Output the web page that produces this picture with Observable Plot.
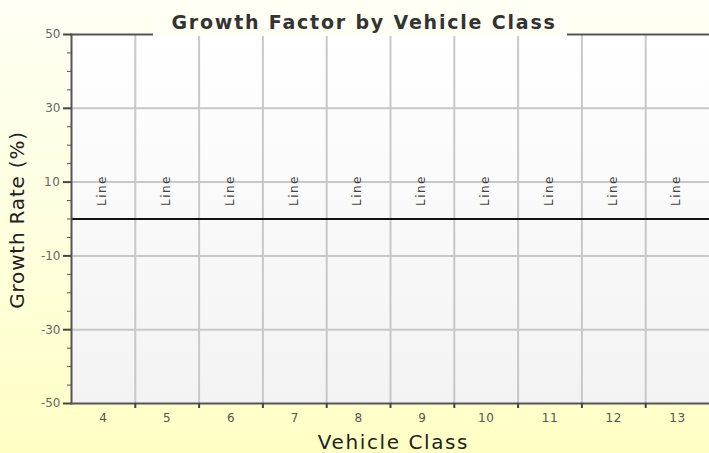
<!DOCTYPE html>
<html>
<head>
<meta charset="utf-8">
<script src="https://cdn.jsdelivr.net/npm/d3@7"></script>
<script src="https://cdn.jsdelivr.net/npm/@observablehq/plot@0.6"></script>
<style>
  html, body { margin: 0; padding: 0; }
  body { width: 709px; height: 453px; overflow: hidden; }
  #wrap {
    position: relative; width: 709px; height: 453px;
    background: linear-gradient(to bottom, #fffff4 0%, #ffffe2 45%, #ffffc4 100%);
  }
  #title {
    position: absolute; left: 153px; top: 8px; width: 414px; height: 28px;
    background: #fffff3; text-align: center; padding-left: 8px; box-sizing: border-box;
    font: bold 19px "DejaVu Sans", sans-serif; letter-spacing: 1.8px; color: #333;
    line-height: 28px;
  }
</style>
</head>
<body>
<div id="wrap"><div id="title"></div></div>
<script>
const title = "Growth Factor by Vehicle Class";
const xLabel = "Vehicle Class";
const yLabel = "Growth Rate (%)";
const classes = [4, 5, 6, 7, 8, 9, 10, 11, 12, 13];
const lineValues = [0, 0, 0, 0, 0, 0, 0, 0, 0, 0];
const seriesName = "Line";
const yMajorTicks = [50, 30, 10, -10, -30, -50];
const yGridTicks = [30, 10, -10, -30];
const yMinorTicks = d3.range(-50, 51, 5).filter(v => !yMajorTicks.includes(v));
const yDomain = [-50, 50];

const xDomain = [d3.min(classes) - 0.5, d3.max(classes) + 0.5];
const boundaries = classes.slice(0, -1).map(c => c + 0.5);
const points = classes.map((c, i) => ({cls: c, value: lineValues[i]}));

document.getElementById("title").textContent = title;

const chart = Plot.plot({
  width: 709,
  height: 453,
  marginLeft: 71,
  marginRight: 0,
  marginTop: 34,
  marginBottom: 50,
  style: {background: "transparent", fontFamily: "'DejaVu Sans', sans-serif"},
  x: {domain: xDomain, axis: null},
  y: {domain: yDomain, axis: null},
  marks: [
    Plot.frame({fill: "url(#plotbg)", stroke: "none"}),
    Plot.ruleX(boundaries, {stroke: "#c8c8c8", strokeWidth: 2}),
    Plot.ruleY(yGridTicks, {stroke: "#c8c8c8", strokeWidth: 2}),
    Plot.ruleY([0], {stroke: "#111", strokeWidth: 2}),
    Plot.line(points, {x: "cls", y: "value", stroke: "#111", strokeWidth: 2}),
    Plot.text(points, {x: "cls", y: "value", text: () => seriesName, rotate: -90, textAnchor: "start", dy: -13, dx: -1, fontSize: 12, fill: "#444"}),
    Plot.frame({anchor: "left", stroke: "#555", strokeWidth: 2}),
    Plot.frame({anchor: "bottom", stroke: "#555", strokeWidth: 2}),
    Plot.frame({anchor: "top", stroke: "#555", strokeWidth: 2}),
    Plot.axisY({ticks: yMajorTicks, tickSize: 8, tickPadding: 3, tickFormat: d => String(d), stroke: "#444", strokeWidth: 2, fill: "#666", fontSize: 12, label: null}),
    Plot.axisY({ticks: yMinorTicks, tickSize: 4, tickFormat: () => "", stroke: "#555", label: null}),
    Plot.axisX({ticks: boundaries, tickSize: 5, tickFormat: () => "", stroke: "#444", strokeWidth: 2, label: null}),
    Plot.axisX({ticks: classes, tickSize: 0, tickPadding: 10, tickFormat: d => String(d), fill: "#555", fontSize: 12, label: null}),
    Plot.text([yLabel], {frameAnchor: "left", textAnchor: "middle", lineAnchor: "middle", rotate: -90, dx: -54, dy: 1, fontSize: 20, fill: "#222"}),
    Plot.text([xLabel], {frameAnchor: "bottom", textAnchor: "middle", lineAnchor: "middle", dy: 39, dx: 3, fontSize: 20, fill: "#222"})
  ]
});

const svg = d3.select(chart);
svg.insert("defs", ":first-child").html(
  '<linearGradient id="plotbg" x1="0" y1="0" x2="0" y2="1">' +
  '<stop offset="0" stop-color="#ffffff"/><stop offset="1" stop-color="#f3f3f3"/></linearGradient>'
);
const spacing = new Map([[xLabel, "1.6px"], [yLabel, "0.8px"], [seriesName, "1.5px"]]);
classes.forEach(c => spacing.set(String(c), "0.6px"));
svg.selectAll("text").each(function () {
  const s = spacing.get(this.textContent);
  if (s) this.style.letterSpacing = s;
});
document.getElementById("wrap").prepend(chart);
</script>
</body>
</html>
